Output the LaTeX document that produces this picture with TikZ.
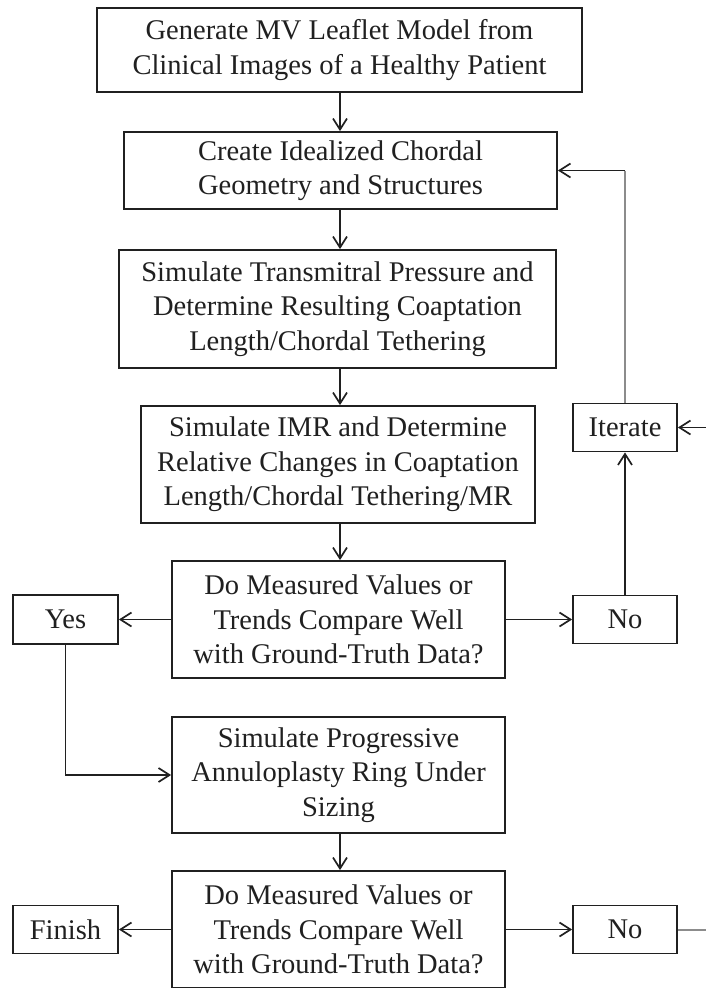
\documentclass[tikz,border=0pt]{standalone}
\usepackage{fontspec}
\setmainfont{Liberation Serif}
\usetikzlibrary{arrows.meta}
\definecolor{ink}{HTML}{202020}
\definecolor{greyline}{HTML}{8C8C8C}
\begin{document}
\begin{tikzpicture}[x=1pt,y=-1pt,
  box/.style={draw=ink, line width=1.8pt, inner sep=0pt, align=center, text=ink,
    font=\fontsize{28.5}{34.5}\selectfont},
  conn/.style={draw=ink, line width=1.7pt, -{Straight Barb[length=11pt,width=14pt,line width=1.7pt]}},
  greyconn/.style={draw=greyline, line width=2pt}]
\useasboundingbox (0,0) rectangle (706,988);
\fill[white] (0,0) rectangle (706,988);

\node[box, minimum width=485pt, minimum height=84pt] (b1) at (339.5,50)
  {Generate MV Leaflet Model from\\Clinical Images of a Healthy Patient};
\node[box, minimum width=433pt, minimum height=77pt] (b2) at (340.5,170.5)
  {Create Idealized Chordal\\Geometry and Structures};
\node[box, minimum width=437pt, minimum height=118pt] (b3) at (337.5,309)
  {Simulate Transmitral Pressure and\\Determine Resulting Coaptation\\Length/Chordal Tethering};
\node[box, minimum width=394pt, minimum height=117pt] (b4) at (338,464.5)
  {Simulate IMR and Determine\\Relative Changes in Coaptation\\Length/Chordal Tethering/MR};
\node[box, minimum width=333pt, minimum height=117pt] (b5) at (338.5,619.5)
  {Do Measured Values or\\Trends Compare Well\\with Ground-Truth Data?};
\node[box, minimum width=105pt, minimum height=49pt] (yes) at (65.5,619.5) {Yes};
\node[box, minimum width=104pt, minimum height=48pt] (no1) at (625,619.5) {No};
\node[box, minimum width=104pt, minimum height=48pt] (it) at (625,427.5) {Iterate};
\node[box, minimum width=333pt, minimum height=116pt] (b6) at (338.5,775)
  {Simulate Progressive\\Annuloplasty Ring Under\\Sizing};
\node[box, minimum width=333pt, minimum height=117pt] (b7) at (338.5,929.5)
  {Do Measured Values or\\Trends Compare Well\\with Ground-Truth Data?};
\node[box, minimum width=105pt, minimum height=48pt] (fin) at (65.5,929.5) {Finish};
\node[box, minimum width=104pt, minimum height=48pt] (no2) at (625,929.5) {No};

\coordinate (rin) at (706,427.5);
\coordinate (rout) at (706,929.5);
\coordinate (corner) at (it.north |- b2.east);
\coordinate (axis) at (340,0);

\draw[conn] (axis |- b1.south) -- (axis |- b2.north);
\draw[conn] (axis |- b2.south) -- (axis |- b3.north);
\draw[conn] (axis |- b3.south) -- (axis |- b4.north);
\draw[conn] (axis |- b4.south) -- (axis |- b5.north);
\draw[conn] (b5.west) -- (yes.east);
\draw[conn] (b5.east) -- (no1.west);
\draw[conn] (no1.north) -- (it.south);
\draw[greyconn] (it.north) -- (corner);
\draw[conn] (corner) -- (b2.east);
\draw[conn] (rin) -- (it.east);
\draw[conn] (yes.south) |- (b6.west);
\draw[conn] (axis |- b6.south) -- (axis |- b7.north);
\draw[conn] (b7.west) -- (fin.east);
\draw[conn] (b7.east) -- (no2.west);
\draw[greyconn] (no2.east) -- (rout);
\end{tikzpicture}
\end{document}
